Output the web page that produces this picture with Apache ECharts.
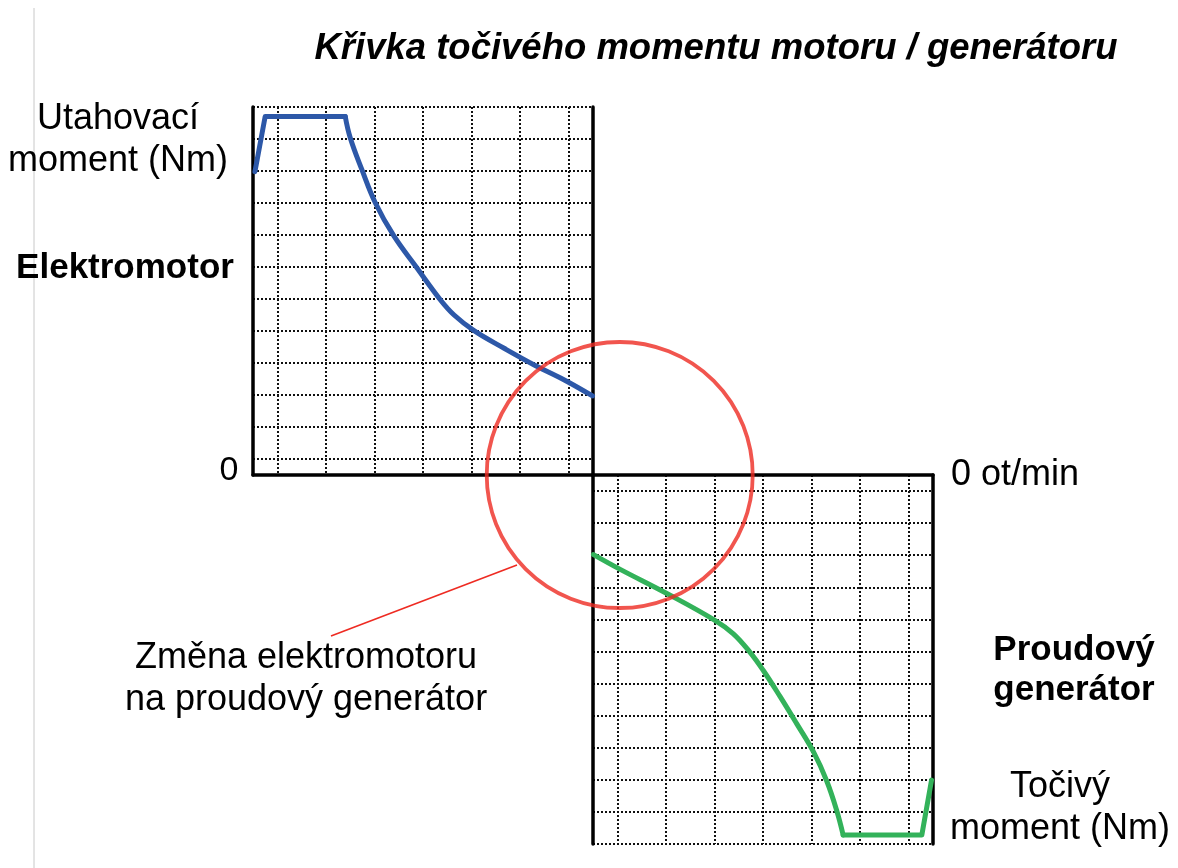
<!DOCTYPE html>
<html>
<head>
<meta charset="utf-8">
<title>Křivka točivého momentu</title>
<script src="https://cdn.jsdelivr.net/npm/echarts@6.0.0/dist/echarts.min.js"></script>
<style>
  html, body { margin: 0; padding: 0; background: #fff; }
  #chart { width: 1178px; height: 868px; }
</style>
</head>
<body>
<div id="chart"></div>
<script>
// otáčky (jednotky mřížky) a moment – režim elektromotoru
// náběh a plochý úsek (ostré rohy)
const motorFlatSpeed  = [0.04, 0.25, 1.90];
const motorFlatTorque = [9.48, 11.2, 11.2];
// pokles momentu (hladká křivka)
const motorSpeed  = [1.90, 2.00, 2.24, 2.52, 2.90, 3.38, 3.86, 4.14, 4.55, 5.17, 5.79, 6.41, 6.99];
const motorTorque = [11.2, 10.55, 9.55, 8.50, 7.47, 6.46, 5.47, 5.00, 4.51, 3.96, 3.44, 2.97, 2.47];

// režim proudového generátoru (záporný moment)
const genSpeed  = [0.01, 0.56, 1.53, 2.51, 2.89, 3.23, 3.51, 3.85, 4.19, 4.54, 4.81, 5.02, 5.15];
const genTorque = [-2.48, -2.94, -3.70, -4.53, -4.95, -5.52, -6.10, -6.90, -7.74, -8.63, -9.53, -10.47, -11.22];
const genFlatSpeed  = [5.15, 6.77, 6.97];
const genFlatTorque = [-11.22, -11.22, -9.51];

// střed kroužku "změna elektromotoru na generátor"
const switchPoint = [0.55, 0];

// pomocné kategorie pro tečkovanou mřížku (půl-dílky)
const colSteps = Array.from({ length: 15 }, (_, i) => String(i));
const rowSteps = Array.from({ length: 24 }, (_, i) => String(i));

const FONT = '"Liberation Sans", Arial, sans-serif';
const BLUE = '#2d58a8';
const GREEN = '#33b25a';
const RED = '#ee2b22';
const solidLine = { show: true, onZero: false, lineStyle: { color: '#000', width: 3.5 } };
const dots = { color: '#111', width: 2, type: [2, 2] };

function dataAxis(gridIndex, min, max, position) {
  return {
    type: 'value', gridIndex, min, max, position,
    axisLine: solidLine,
    axisTick: { show: false },
    axisLabel: { show: false },
    splitLine: { show: false }
  };
}

function gridAxis(gridIndex, data, position, odd, showLine) {
  return {
    type: 'category', gridIndex, data, position,
    boundaryGap: false,
    axisLine: showLine ? solidLine : { show: false },
    axisTick: { show: false },
    axisLabel: { show: false },
    splitLine: {
      show: true,
      interval: (index) => (index % 2 === 1) === odd,
      lineStyle: dots
    }
  };
}

function curve(name, axis, xs, ys, color, smooth) {
  return {
    name,
    type: 'line',
    xAxisIndex: axis, yAxisIndex: axis,
    data: xs.map((s, i) => [s, ys[i]]),
    showSymbol: false,
    smooth: smooth ? 0.4 : false,
    lineStyle: { color, width: 5, cap: 'round', join: 'round' },
    z: 5
  };
}

const chart = echarts.init(document.getElementById('chart'));

const option = {
  animation: false,
  backgroundColor: '#fff',
  title: {
    text: 'Křivka točivého momentu motoru / generátoru',
    left: 711,
    top: 25,
    textAlign: 'center',
    textStyle: { fontFamily: FONT, fontSize: 36.5, fontWeight: 'bold', fontStyle: 'italic', color: '#000' }
  },
  grid: [
    { left: 253, top: 107, width: 340, height: 368 },
    { left: 593, top: 475, width: 340, height: 369 }
  ],
  xAxis: [
    dataAxis(0, 0, 7, 'bottom'),
    gridAxis(0, colSteps, 'top', true, false),
    dataAxis(1, 0, 7, 'top'),
    gridAxis(1, colSteps, 'bottom', true, false)
  ],
  yAxis: [
    dataAxis(0, 0, 11.5, 'left'),
    gridAxis(0, rowSteps, 'right', true, true),
    dataAxis(1, -11.5, 0, 'left'),
    gridAxis(1, rowSteps, 'right', false, true)
  ],
  series: [
    curve('Elektromotor', 0, motorFlatSpeed, motorFlatTorque, BLUE, false),
    curve('Elektromotor', 0, motorSpeed, motorTorque, BLUE, true),
    curve('Proudový generátor', 2, genSpeed, genTorque, GREEN, true),
    curve('Proudový generátor', 2, genFlatSpeed, genFlatTorque, GREEN, false),
    {
      name: 'Změna',
      type: 'scatter',
      xAxisIndex: 2, yAxisIndex: 2,
      data: [switchPoint],
      clip: false,
      symbol: 'circle',
      symbolSize: 266,
      itemStyle: { color: 'rgba(0,0,0,0)', borderColor: RED, borderWidth: 3.8 },
      silent: true,
      z: 6
    }
  ],
  graphic: [
    { type: 'line', shape: { x1: 34, y1: 8, x2: 34, y2: 868 }, style: { stroke: '#c8c8c8', lineWidth: 1 } },
    { type: 'line', shape: { x1: 331, y1: 636, x2: 517, y2: 565 }, style: { stroke: RED, lineWidth: 1.6 }, z: 10 },
    {
      type: 'text', x: 118, y: 140,
      style: { text: 'Utahovací\nmoment (Nm)', fontFamily: FONT, fontSize: 36, lineHeight: 42, fill: '#000', textAlign: 'center', textVerticalAlign: 'middle' }
    },
    {
      type: 'text', x: 125, y: 268,
      style: { text: 'Elektromotor', fontFamily: FONT, fontSize: 35, fontWeight: 'bold', fill: '#000', textAlign: 'center', textVerticalAlign: 'middle' }
    },
    {
      type: 'text', x: 229, y: 471,
      style: { text: '0', fontFamily: FONT, fontSize: 34, fill: '#000', textAlign: 'center', textVerticalAlign: 'middle' }
    },
    {
      type: 'text', x: 951, y: 475,
      style: { text: '0 ot/min', fontFamily: FONT, fontSize: 36, fill: '#000', textAlign: 'left', textVerticalAlign: 'middle' }
    },
    {
      type: 'text', x: 306, y: 679,
      style: { text: 'Změna elektromotoru\nna proudový generátor', fontFamily: FONT, fontSize: 36, lineHeight: 42, fill: '#000', textAlign: 'center', textVerticalAlign: 'middle' }
    },
    {
      type: 'text', x: 1074, y: 670,
      style: { text: 'Proudový\ngenerátor', fontFamily: FONT, fontSize: 35, fontWeight: 'bold', lineHeight: 40, fill: '#000', textAlign: 'center', textVerticalAlign: 'middle' }
    },
    {
      type: 'text', x: 1060, y: 808,
      style: { text: 'Točivý\nmoment (Nm)', fontFamily: FONT, fontSize: 36, lineHeight: 42, fill: '#000', textAlign: 'center', textVerticalAlign: 'middle' }
    }
  ]
};

chart.setOption(option);
window.addEventListener('resize', () => chart.resize());
</script>
</body>
</html>
